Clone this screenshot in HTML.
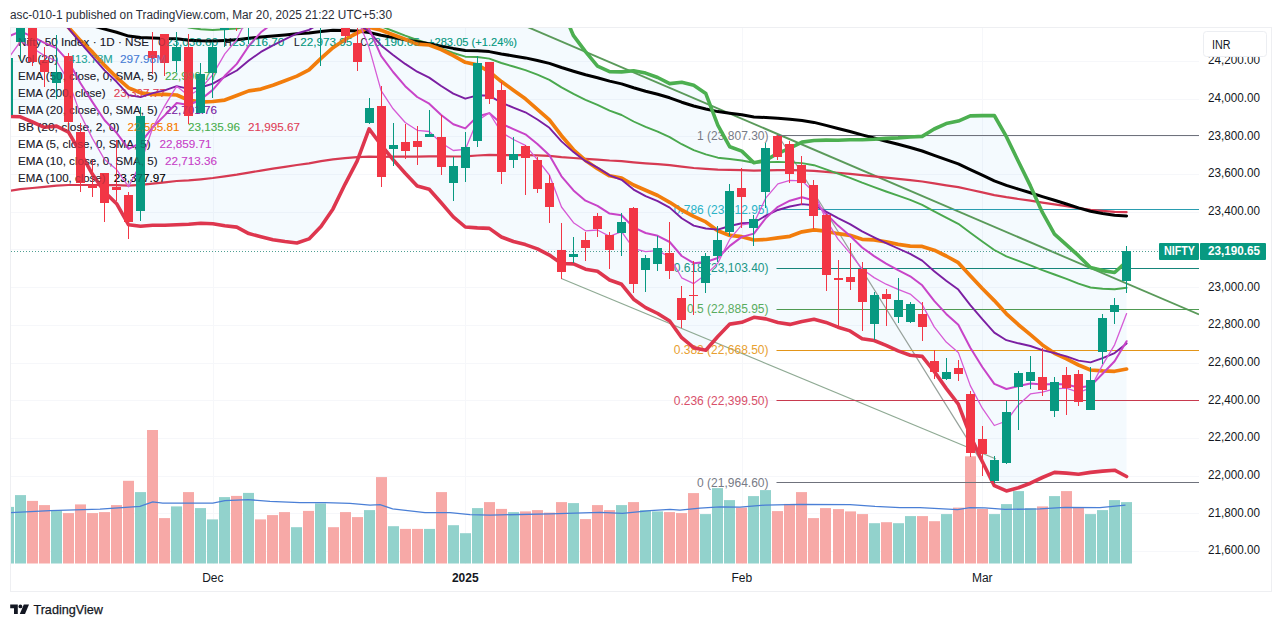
<!DOCTYPE html>
<html><head><meta charset="utf-8"><title>Nifty 50 Index chart</title>
<style>html,body{margin:0;padding:0;background:#fff;width:1281px;height:627px;overflow:hidden;font-family:"Liberation Sans",sans-serif}</style>
</head><body>
<svg width="1281" height="627" viewBox="0 0 1281 627" style="position:absolute;left:0;top:0;font-family:'Liberation Sans',sans-serif">
<defs><clipPath id="pane"><rect x="11" y="28" width="1188" height="536.5"/></clipPath></defs>
<rect x="0" y="0" width="1281" height="627" fill="#fff"/>
<rect x="10.5" y="27.5" width="1261" height="564" fill="none" stroke="#eeeff2" stroke-width="1"/>
<line x1="11" x2="1199" y1="551.5" y2="551.5" stroke="#f6f7fa" stroke-width="1"/>
<line x1="11" x2="1199" y1="513.5" y2="513.5" stroke="#f6f7fa" stroke-width="1"/>
<line x1="11" x2="1199" y1="476.5" y2="476.5" stroke="#f6f7fa" stroke-width="1"/>
<line x1="11" x2="1199" y1="438.5" y2="438.5" stroke="#f6f7fa" stroke-width="1"/>
<line x1="11" x2="1199" y1="400.5" y2="400.5" stroke="#f6f7fa" stroke-width="1"/>
<line x1="11" x2="1199" y1="363.5" y2="363.5" stroke="#f6f7fa" stroke-width="1"/>
<line x1="11" x2="1199" y1="325.5" y2="325.5" stroke="#f6f7fa" stroke-width="1"/>
<line x1="11" x2="1199" y1="287.5" y2="287.5" stroke="#f6f7fa" stroke-width="1"/>
<line x1="11" x2="1199" y1="249.5" y2="249.5" stroke="#f6f7fa" stroke-width="1"/>
<line x1="11" x2="1199" y1="212.5" y2="212.5" stroke="#f6f7fa" stroke-width="1"/>
<line x1="11" x2="1199" y1="174.5" y2="174.5" stroke="#f6f7fa" stroke-width="1"/>
<line x1="11" x2="1199" y1="136.5" y2="136.5" stroke="#f6f7fa" stroke-width="1"/>
<line x1="11" x2="1199" y1="99.5" y2="99.5" stroke="#f6f7fa" stroke-width="1"/>
<line x1="11" x2="1199" y1="61.5" y2="61.5" stroke="#f6f7fa" stroke-width="1"/>
<line x1="213.5" x2="213.5" y1="28" y2="564" stroke="#f6f7fa" stroke-width="1"/>
<line x1="465.5" x2="465.5" y1="28" y2="564" stroke="#f6f7fa" stroke-width="1"/>
<line x1="742.5" x2="742.5" y1="28" y2="564" stroke="#f6f7fa" stroke-width="1"/>
<line x1="982.5" x2="982.5" y1="28" y2="564" stroke="#f6f7fa" stroke-width="1"/>
<g clip-path="url(#pane)">
<polygon points="8.4,-142.2 20.4,-133.2 32.4,-123.3 44.4,-113.2 56.5,-93.4 68.5,-77.4 80.5,-71.3 92.5,-69.9 104.6,-61.3 116.6,-49.1 128.6,-49.1 140.6,-40.6 152.7,-36.2 164.7,-36.5 176.7,-34.9 188.7,-24.0 200.8,-19.0 212.8,-20.7 224.8,-25.6 236.8,-35.9 248.8,-51.7 260.9,-58.6 272.9,-69.4 284.9,-79.9 296.9,-90.8 309.0,-99.3 321.0,-109.7 333.0,-113.5 345.0,-105.5 357.1,-95.1 369.1,-74.3 381.1,-84.4 393.1,-90.0 405.2,-95.0 417.2,-97.9 429.2,-99.1 441.2,-103.4 453.3,-105.6 465.3,-102.3 477.3,-98.0 489.3,-85.3 501.4,-73.8 513.4,-61.2 525.4,-46.9 537.4,-30.1 549.4,-15.3 561.5,8.0 573.5,35.7 585.5,51.6 597.5,66.2 609.6,71.6 621.6,71.9 633.6,70.7 645.6,73.1 657.7,77.5 669.7,83.6 681.7,82.2 693.7,85.2 705.8,93.6 717.8,125.1 729.8,146.8 741.8,151.1 753.9,162.7 765.9,160.1 777.9,153.3 789.9,148.1 802.0,142.1 814.0,140.5 826.0,140.1 838.0,140.3 850.0,139.8 862.1,139.8 874.1,139.3 886.1,138.4 898.1,137.9 910.2,137.0 922.2,136.4 934.2,129.0 946.2,123.6 958.3,121.1 970.3,115.9 982.3,115.6 994.3,115.5 1006.4,136.7 1018.4,161.5 1030.4,185.9 1042.4,212.4 1054.5,234.1 1066.5,244.8 1078.5,255.7 1090.5,267.5 1102.6,270.6 1114.6,272.5 1126.6,261.6 1126.6,476.5 1114.6,470.2 1102.6,471.1 1090.5,472.4 1078.5,474.3 1066.5,473.1 1054.5,472.4 1042.4,477.5 1030.4,483.2 1018.4,487.8 1006.4,490.9 994.3,485.7 982.3,461.5 970.3,435.5 958.3,404.2 946.2,388.4 934.2,371.4 922.2,356.4 910.2,355.2 898.1,350.9 886.1,345.3 874.1,340.5 862.1,338.7 850.0,330.9 838.0,327.2 826.0,322.4 814.0,319.3 802.0,321.5 789.9,324.4 777.9,322.5 765.9,318.9 753.9,317.3 741.8,322.3 729.8,324.1 717.8,336.5 705.8,350.2 693.7,347.7 681.7,337.7 669.7,321.0 657.7,313.5 645.6,307.6 633.6,299.2 621.6,284.3 609.6,280.0 597.5,271.3 585.5,269.2 573.5,263.9 561.5,263.5 549.4,255.1 537.4,248.9 525.4,244.6 513.4,241.5 501.4,237.0 489.3,228.4 477.3,227.9 465.3,227.0 453.3,216.8 441.2,202.7 429.2,189.2 417.2,186.1 405.2,173.3 393.1,159.6 381.1,145.0 369.1,128.9 357.1,161.1 345.0,184.3 333.0,208.9 321.0,226.5 309.0,238.9 296.9,243.0 284.9,241.5 272.9,239.7 260.9,236.8 248.8,233.6 236.8,227.1 224.8,225.7 212.8,223.7 200.8,223.3 188.7,224.3 176.7,224.8 164.7,225.2 152.7,225.2 140.6,226.3 128.6,224.8 116.6,203.7 104.6,192.1 92.5,174.3 80.5,152.8 68.5,132.2 56.5,126.1 44.4,127.3 32.4,122.0 20.4,116.8 8.4,116.4" fill="#2196f3" fill-opacity="0.05"/>
</g>
<text x="18.1" y="45.9" font-size="11.5" fill="#1e222d" textLength="131" lengthAdjust="spacingAndGlyphs" >Nifty 50 Index · 1D · NSE</text>
<text x="158.2" y="45.9" font-size="11.5" fill="#1e222d" textLength="7.100000000000011" lengthAdjust="spacingAndGlyphs" >O</text>
<text x="166" y="45.9" font-size="11.5" fill="#089981" textLength="52" lengthAdjust="spacingAndGlyphs">23,036.60</text>
<text x="224.5" y="45.9" font-size="11.5" fill="#1e222d" textLength="7.100000000000011" lengthAdjust="spacingAndGlyphs" >H</text>
<text x="232.3" y="45.9" font-size="11.5" fill="#089981" textLength="52" lengthAdjust="spacingAndGlyphs">23,216.70</text>
<text x="293.9" y="45.9" font-size="11.5" fill="#1e222d" textLength="5.700000000000034" lengthAdjust="spacingAndGlyphs" >L</text>
<text x="300.3" y="45.9" font-size="11.5" fill="#089981" textLength="52" lengthAdjust="spacingAndGlyphs">22,973.95</text>
<text x="360.6" y="45.9" font-size="11.5" fill="#1e222d" textLength="6.4999999999999885" lengthAdjust="spacingAndGlyphs" >C</text>
<text x="367.8" y="45.9" font-size="11.5" fill="#089981" textLength="52" lengthAdjust="spacingAndGlyphs">23,190.65</text>
<text x="428" y="45.9" font-size="11.5" fill="#089981" textLength="89" lengthAdjust="spacingAndGlyphs" >+283.05 (+1.24%)</text>
<text x="18.1" y="62.9" font-size="11.5" fill="#1e222d" textLength="40" lengthAdjust="spacingAndGlyphs" >Vol (20)</text>
<text x="68.75" y="62.9" font-size="11.5" fill="#26a69a" textLength="44" lengthAdjust="spacingAndGlyphs" >413.73M</text>
<text x="120" y="62.9" font-size="11.5" fill="#4a7fd6" textLength="46" lengthAdjust="spacingAndGlyphs" >297.98M</text>
<text x="18.1" y="79.8" font-size="11.5" fill="#1e222d" textLength="139.5" lengthAdjust="spacingAndGlyphs" >EMA (50, close, 0, SMA, 5)</text>
<text x="165" y="79.8" font-size="11.5" fill="#4caf50" textLength="52" lengthAdjust="spacingAndGlyphs" >22,996.77</text>
<text x="18.1" y="96.8" font-size="11.5" fill="#1e222d" textLength="87.5" lengthAdjust="spacingAndGlyphs" >EMA (200, close)</text>
<text x="113.75" y="96.8" font-size="11.5" fill="#e0435a" textLength="52" lengthAdjust="spacingAndGlyphs" >23,397.77</text>
<text x="18.1" y="113.8" font-size="11.5" fill="#1e222d" textLength="139.5" lengthAdjust="spacingAndGlyphs" >EMA (20, close, 0, SMA, 5)</text>
<text x="165" y="113.8" font-size="11.5" fill="#7b1fa2" textLength="52" lengthAdjust="spacingAndGlyphs" >22,701.76</text>
<text x="18.1" y="130.8" font-size="11.5" fill="#1e222d" textLength="101.5" lengthAdjust="spacingAndGlyphs" >BB (20, close, 2, 0)</text>
<text x="127.5" y="130.8" font-size="11.5" fill="#f57c00" textLength="52" lengthAdjust="spacingAndGlyphs" >22,565.81</text>
<text x="188" y="130.8" font-size="11.5" fill="#4caf50" textLength="52" lengthAdjust="spacingAndGlyphs" >23,135.96</text>
<text x="248" y="130.8" font-size="11.5" fill="#e0435a" textLength="52" lengthAdjust="spacingAndGlyphs" >21,995.67</text>
<text x="18.1" y="147.8" font-size="11.5" fill="#1e222d" textLength="132.5" lengthAdjust="spacingAndGlyphs" >EMA (5, close, 0, SMA, 5)</text>
<text x="159.5" y="147.8" font-size="11.5" fill="#c844c8" textLength="52" lengthAdjust="spacingAndGlyphs" >22,859.71</text>
<text x="18.1" y="164.8" font-size="11.5" fill="#1e222d" textLength="139.5" lengthAdjust="spacingAndGlyphs" >EMA (10, close, 0, SMA, 5)</text>
<text x="165" y="164.8" font-size="11.5" fill="#c844c8" textLength="52" lengthAdjust="spacingAndGlyphs" >22,713.36</text>
<text x="18.1" y="181.8" font-size="11.5" fill="#1e222d" textLength="87.5" lengthAdjust="spacingAndGlyphs" >EMA (100, close)</text>
<text x="113.75" y="181.8" font-size="11.5" fill="#000" textLength="52" lengthAdjust="spacingAndGlyphs" >23,377.97</text>
<g clip-path="url(#pane)">
<rect x="3" y="506.9" width="11" height="56.6" fill="#92d2cc"/>
<rect x="15" y="495.1" width="11" height="68.4" fill="#92d2cc"/>
<rect x="27" y="500.9" width="11" height="62.6" fill="#f7a9a7"/>
<rect x="39" y="505.1" width="11" height="58.4" fill="#f7a9a7"/>
<rect x="51" y="510.1" width="11" height="53.4" fill="#92d2cc"/>
<rect x="63" y="513.1" width="11" height="50.4" fill="#f7a9a7"/>
<rect x="75" y="504.4" width="11" height="59.1" fill="#f7a9a7"/>
<rect x="87" y="513.1" width="11" height="50.4" fill="#f7a9a7"/>
<rect x="99" y="512.1" width="11" height="51.4" fill="#f7a9a7"/>
<rect x="111" y="505.1" width="11" height="58.4" fill="#f7a9a7"/>
<rect x="123" y="480.8" width="11" height="82.7" fill="#f7a9a7"/>
<rect x="135" y="492.1" width="11" height="71.4" fill="#92d2cc"/>
<rect x="147" y="430.0" width="11" height="133.5" fill="#f7a9a7"/>
<rect x="159" y="518.1" width="11" height="45.4" fill="#f7a9a7"/>
<rect x="171" y="506.4" width="11" height="57.1" fill="#92d2cc"/>
<rect x="183" y="492.1" width="11" height="71.4" fill="#f7a9a7"/>
<rect x="195" y="508.1" width="11" height="55.4" fill="#92d2cc"/>
<rect x="207" y="519.4" width="11" height="44.1" fill="#92d2cc"/>
<rect x="219" y="497.1" width="11" height="66.4" fill="#92d2cc"/>
<rect x="231" y="495.9" width="11" height="67.6" fill="#f7a9a7"/>
<rect x="243" y="492.9" width="11" height="70.6" fill="#92d2cc"/>
<rect x="255" y="519.4" width="11" height="44.1" fill="#f7a9a7"/>
<rect x="267" y="515.1" width="11" height="48.4" fill="#f7a9a7"/>
<rect x="279" y="512.1" width="11" height="51.4" fill="#f7a9a7"/>
<rect x="291" y="527.2" width="11" height="36.3" fill="#92d2cc"/>
<rect x="303" y="510.9" width="11" height="52.6" fill="#f7a9a7"/>
<rect x="315" y="503.4" width="11" height="60.1" fill="#92d2cc"/>
<rect x="328" y="527.2" width="11" height="36.3" fill="#f7a9a7"/>
<rect x="340" y="512.1" width="11" height="51.4" fill="#f7a9a7"/>
<rect x="352" y="517.1" width="11" height="46.4" fill="#f7a9a7"/>
<rect x="364" y="510.1" width="11" height="53.4" fill="#92d2cc"/>
<rect x="376" y="477.1" width="11" height="86.4" fill="#f7a9a7"/>
<rect x="388" y="526.2" width="11" height="37.3" fill="#92d2cc"/>
<rect x="400" y="528.9" width="11" height="34.6" fill="#f7a9a7"/>
<rect x="412" y="528.9" width="11" height="34.6" fill="#f7a9a7"/>
<rect x="424" y="528.9" width="11" height="34.6" fill="#92d2cc"/>
<rect x="436" y="492.1" width="11" height="71.4" fill="#f7a9a7"/>
<rect x="448" y="525.2" width="11" height="38.3" fill="#92d2cc"/>
<rect x="460" y="533.2" width="11" height="30.3" fill="#92d2cc"/>
<rect x="472" y="508.1" width="11" height="55.4" fill="#92d2cc"/>
<rect x="484" y="502.1" width="11" height="61.4" fill="#f7a9a7"/>
<rect x="496" y="508.9" width="11" height="54.6" fill="#f7a9a7"/>
<rect x="508" y="512.1" width="11" height="51.4" fill="#92d2cc"/>
<rect x="520" y="511.4" width="11" height="52.1" fill="#f7a9a7"/>
<rect x="532" y="510.1" width="11" height="53.4" fill="#f7a9a7"/>
<rect x="544" y="512.6" width="11" height="50.9" fill="#f7a9a7"/>
<rect x="556" y="502.1" width="11" height="61.4" fill="#f7a9a7"/>
<rect x="568" y="503.1" width="11" height="60.4" fill="#92d2cc"/>
<rect x="580" y="519.1" width="11" height="44.4" fill="#f7a9a7"/>
<rect x="592" y="505.1" width="11" height="58.4" fill="#f7a9a7"/>
<rect x="604" y="510.1" width="11" height="53.4" fill="#f7a9a7"/>
<rect x="616" y="505.1" width="11" height="58.4" fill="#92d2cc"/>
<rect x="628" y="502.1" width="11" height="61.4" fill="#f7a9a7"/>
<rect x="640" y="510.1" width="11" height="53.4" fill="#92d2cc"/>
<rect x="652" y="511.4" width="11" height="52.1" fill="#92d2cc"/>
<rect x="664" y="512.1" width="11" height="51.4" fill="#f7a9a7"/>
<rect x="676" y="513.1" width="11" height="50.4" fill="#f7a9a7"/>
<rect x="688" y="493.1" width="11" height="70.4" fill="#f7a9a7"/>
<rect x="700" y="514.1" width="11" height="49.4" fill="#92d2cc"/>
<rect x="712" y="488.1" width="11" height="75.4" fill="#92d2cc"/>
<rect x="724" y="500.1" width="11" height="63.4" fill="#92d2cc"/>
<rect x="736" y="507.6" width="11" height="55.9" fill="#f7a9a7"/>
<rect x="748" y="496.1" width="11" height="67.4" fill="#92d2cc"/>
<rect x="760" y="490.1" width="11" height="73.4" fill="#92d2cc"/>
<rect x="772" y="511.1" width="11" height="52.4" fill="#f7a9a7"/>
<rect x="784" y="503.9" width="11" height="59.6" fill="#f7a9a7"/>
<rect x="796" y="492.1" width="11" height="71.4" fill="#f7a9a7"/>
<rect x="808" y="518.1" width="11" height="45.4" fill="#f7a9a7"/>
<rect x="820" y="508.1" width="11" height="55.4" fill="#f7a9a7"/>
<rect x="833" y="509.1" width="11" height="54.4" fill="#f7a9a7"/>
<rect x="845" y="511.4" width="11" height="52.1" fill="#f7a9a7"/>
<rect x="857" y="514.1" width="11" height="49.4" fill="#f7a9a7"/>
<rect x="869" y="523.2" width="11" height="40.3" fill="#92d2cc"/>
<rect x="881" y="522.2" width="11" height="41.3" fill="#f7a9a7"/>
<rect x="893" y="523.2" width="11" height="40.3" fill="#92d2cc"/>
<rect x="905" y="516.1" width="11" height="47.4" fill="#92d2cc"/>
<rect x="917" y="516.1" width="11" height="47.4" fill="#f7a9a7"/>
<rect x="929" y="521.2" width="11" height="42.3" fill="#f7a9a7"/>
<rect x="941" y="514.1" width="11" height="49.4" fill="#92d2cc"/>
<rect x="953" y="507.6" width="11" height="55.9" fill="#f7a9a7"/>
<rect x="965" y="456.3" width="11" height="107.2" fill="#f7a9a7"/>
<rect x="977" y="508.9" width="11" height="54.6" fill="#f7a9a7"/>
<rect x="989" y="514.1" width="11" height="49.4" fill="#92d2cc"/>
<rect x="1001" y="504.1" width="11" height="59.4" fill="#92d2cc"/>
<rect x="1013" y="491.1" width="11" height="72.4" fill="#92d2cc"/>
<rect x="1025" y="508.1" width="11" height="55.4" fill="#92d2cc"/>
<rect x="1037" y="506.4" width="11" height="57.1" fill="#f7a9a7"/>
<rect x="1049" y="496.1" width="11" height="67.4" fill="#92d2cc"/>
<rect x="1061" y="491.1" width="11" height="72.4" fill="#f7a9a7"/>
<rect x="1073" y="507.6" width="11" height="55.9" fill="#f7a9a7"/>
<rect x="1085" y="514.1" width="11" height="49.4" fill="#92d2cc"/>
<rect x="1097" y="510.1" width="11" height="53.4" fill="#92d2cc"/>
<rect x="1109" y="500.1" width="11" height="63.4" fill="#92d2cc"/>
<rect x="1121" y="502.1" width="11" height="61.4" fill="#92d2cc"/>
<polyline points="10,512.6 50,510.6 100,509.1 140,506.4 152.7,501.9 162.7,503.1 212.8,503.1 225,500.6 248,499.6 270,501.4 300,502.6 325,502.6 350,503.4 370,505.1 380,504.6 392.6,508.9 425,512.6 450,512.6 470,514.6 490,515.1 550,513.9 575,513.1 600,512.4 622.5,513.4 650,510.6 670,509.4 680,510.1 700,508.1 720,506.9 740,507.1 765,505.1 800,504.4 850,504.6 875,506.4 900,507.6 920,507.6 957.6,509.6 970,507.6 985,507.9 1005,509.4 1040,508.9 1065,507.4 1100,507.6 1125.5,505.1" fill="none" stroke="#4a7fd6" stroke-width="1.3"/>
<line x1="561.3" y1="278.5" x2="996" y2="459" stroke="#8faa94" stroke-width="1.2"/>
<line x1="527.5" y1="27" x2="1199" y2="314.5" stroke="#5a9a5a" stroke-width="1.9"/>
<line x1="777.9" y1="135.0" x2="994.3" y2="482.4" stroke="#97a19b" stroke-width="1.2"/>
<line x1="776.5" x2="1199" y1="135.5" y2="135.5" stroke="#6f727c" stroke-width="1"/>
<text x="768.5" y="139.6" font-size="12" fill="#787b86" text-anchor="end">1 (23,807.30)</text>
<line x1="776.5" x2="1199" y1="209.5" y2="209.5" stroke="#2a9db0" stroke-width="1"/>
<text x="768.5" y="214.0" font-size="12" fill="#2bb3c7" text-anchor="end">0.786 (23,412.95)</text>
<line x1="776.5" x2="1199" y1="268.5" y2="268.5" stroke="#16857a" stroke-width="1"/>
<text x="768.5" y="272.3" font-size="12" fill="#1a9686" text-anchor="end">0.618 (23,103.40)</text>
<line x1="776.5" x2="1199" y1="309.5" y2="309.5" stroke="#4f9a52" stroke-width="1"/>
<text x="768.5" y="313.3" font-size="12" fill="#5aac5e" text-anchor="end">0.5 (22,885.95)</text>
<line x1="776.5" x2="1199" y1="350.5" y2="350.5" stroke="#e39518" stroke-width="1"/>
<text x="768.5" y="354.3" font-size="12" fill="#e8a030" text-anchor="end">0.382 (22,668.50)</text>
<line x1="776.5" x2="1199" y1="400.5" y2="400.5" stroke="#c83a4e" stroke-width="1"/>
<text x="768.5" y="405.0" font-size="12" fill="#d8506a" text-anchor="end">0.236 (22,399.50)</text>
<line x1="776.5" x2="1199" y1="482.5" y2="482.5" stroke="#6f727c" stroke-width="1"/>
<text x="768.5" y="487.0" font-size="12" fill="#787b86" text-anchor="end">0 (21,964.60)</text>
<line x1="11" x2="1199" y1="251.5" y2="251.5" stroke="#4f9f93" stroke-width="1" stroke-dasharray="1 2"/>
<polyline points="8.4,191.1 20.4,189.2 32.4,188.0 44.4,186.8 56.5,185.6 68.5,185.0 80.5,185.0 92.5,185.0 104.6,185.1 116.6,185.2 128.6,185.6 140.6,184.9 152.7,183.6 164.7,182.4 176.7,181.0 188.7,180.4 200.8,179.3 212.8,178.0 224.8,176.3 236.8,174.7 248.8,172.6 260.9,170.6 272.9,168.7 284.9,166.9 296.9,165.0 309.0,163.3 321.0,161.2 333.0,159.4 345.0,158.1 357.1,157.2 369.1,156.7 381.1,156.9 393.1,156.7 405.2,156.7 417.2,156.6 429.2,156.3 441.2,156.4 453.3,156.5 465.3,156.4 477.3,155.5 489.3,154.9 501.4,155.1 513.4,155.1 525.4,155.1 537.4,155.4 549.4,155.9 561.5,157.1 573.5,158.0 585.5,158.9 597.5,159.6 609.6,160.5 621.6,161.1 633.6,162.3 645.6,163.3 657.7,164.1 669.7,165.2 681.7,166.7 693.7,168.0 705.8,168.9 717.8,169.6 729.8,169.8 741.8,170.1 753.9,170.6 765.9,170.3 777.9,170.2 789.9,170.2 802.0,170.3 814.0,170.8 826.0,171.8 838.0,172.9 850.0,173.9 862.1,175.2 874.1,176.4 886.1,177.6 898.1,178.8 910.2,180.1 922.2,181.5 934.2,183.4 946.2,185.3 958.3,187.1 970.3,189.8 982.3,192.4 994.3,195.1 1006.4,197.2 1018.4,199.0 1030.4,200.7 1042.4,202.6 1054.5,204.3 1066.5,206.2 1078.5,208.1 1090.5,209.8 1102.6,210.9 1114.6,211.8 1126.6,212.2" fill="none" stroke="#d63a52" stroke-width="2.2" stroke-linejoin="round" stroke-linecap="round" />
<polyline points="8.4,-44.4 20.4,-42.4 32.4,-38.3 44.4,-34.1 56.5,-29.9 68.5,-24.0 80.5,-15.9 92.5,-8.0 104.6,0.2 116.6,7.7 128.6,16.0 140.6,20.0 152.7,21.4 164.7,23.0 176.7,23.9 188.7,27.5 200.8,29.3 212.8,30.0 224.8,29.3 236.8,28.6 248.8,26.1 260.9,23.9 272.9,22.3 284.9,20.8 296.9,19.1 309.0,18.2 321.0,15.6 333.0,14.0 345.0,14.8 357.1,16.6 369.1,20.2 381.1,26.3 393.1,31.0 405.2,35.7 417.2,40.0 429.2,43.7 441.2,48.4 453.3,53.0 465.3,56.7 477.3,57.0 489.3,58.6 501.4,63.0 513.4,66.5 525.4,70.1 537.4,74.7 549.4,79.9 561.5,87.4 573.5,93.9 585.5,99.9 597.5,104.9 609.6,110.6 621.6,115.0 633.6,121.5 645.6,126.9 657.7,131.7 669.7,137.1 681.7,144.2 693.7,150.1 705.8,154.3 717.8,157.7 729.8,159.0 741.8,160.5 753.9,162.8 765.9,162.2 777.9,161.9 789.9,162.4 802.0,163.1 814.0,165.2 826.0,169.4 838.0,173.7 850.0,177.9 862.1,182.7 874.1,187.1 886.1,191.5 898.1,195.7 910.2,199.9 922.2,204.9 934.2,211.4 946.2,217.7 958.3,223.8 970.3,232.8 982.3,241.4 994.3,250.0 1006.4,256.3 1018.4,260.9 1030.4,265.3 1042.4,270.1 1054.5,274.5 1066.5,278.9 1078.5,283.7 1090.5,287.5 1102.6,288.7 1114.6,289.3 1126.6,287.8" fill="none" stroke="#4aa84e" stroke-width="1.9" stroke-linejoin="round" stroke-linecap="round" />
<polyline points="8.4,14.1 20.4,14.0 32.4,14.9 44.4,16.0 56.5,17.1 68.5,19.2 80.5,22.4 92.5,25.7 104.6,29.1 116.6,32.3 128.6,36.1 140.6,37.6 152.7,38.0 164.7,38.5 176.7,38.7 188.7,40.2 200.8,40.8 212.8,41.0 224.8,40.4 236.8,39.8 248.8,38.3 260.9,37.0 272.9,35.9 284.9,34.9 296.9,33.7 309.0,33.0 321.0,31.4 333.0,30.2 345.0,30.4 357.1,31.0 369.1,32.5 381.1,35.3 393.1,37.5 405.2,39.7 417.2,41.8 429.2,43.7 441.2,46.1 453.3,48.4 465.3,50.4 477.3,50.7 489.3,51.6 501.4,54.0 513.4,55.9 525.4,57.9 537.4,60.5 549.4,63.4 561.5,67.5 573.5,71.2 585.5,74.7 597.5,77.7 609.6,81.1 621.6,83.9 633.6,87.8 645.6,91.2 657.7,94.3 669.7,97.8 681.7,102.2 693.7,106.0 705.8,109.0 717.8,111.6 729.8,113.2 741.8,114.8 753.9,116.9 765.9,117.5 777.9,118.2 789.9,119.3 802.0,120.6 814.0,122.4 826.0,125.4 838.0,128.5 850.0,131.5 862.1,134.9 874.1,138.0 886.1,141.2 898.1,144.3 910.2,147.5 922.2,151.0 934.2,155.4 946.2,159.7 958.3,163.9 970.3,169.6 982.3,175.2 994.3,180.9 1006.4,185.4 1018.4,189.1 1030.4,192.8 1042.4,196.6 1054.5,200.3 1066.5,204.0 1078.5,207.9 1090.5,211.3 1102.6,213.4 1114.6,215.2 1126.6,215.9" fill="none" stroke="#000000" stroke-width="3" stroke-linejoin="round" stroke-linecap="round" />
<polyline points="8.4,-142.2 20.4,-133.2 32.4,-123.3 44.4,-113.2 56.5,-93.4 68.5,-77.4 80.5,-71.3 92.5,-69.9 104.6,-61.3 116.6,-49.1 128.6,-49.1 140.6,-40.6 152.7,-36.2 164.7,-36.5 176.7,-34.9 188.7,-24.0 200.8,-19.0 212.8,-20.7 224.8,-25.6 236.8,-35.9 248.8,-51.7 260.9,-58.6 272.9,-69.4 284.9,-79.9 296.9,-90.8 309.0,-99.3 321.0,-109.7 333.0,-113.5 345.0,-105.5 357.1,-95.1 369.1,-74.3 381.1,-84.4 393.1,-90.0 405.2,-95.0 417.2,-97.9 429.2,-99.1 441.2,-103.4 453.3,-105.6 465.3,-102.3 477.3,-98.0 489.3,-85.3 501.4,-73.8 513.4,-61.2 525.4,-46.9 537.4,-30.1 549.4,-15.3 561.5,8.0 573.5,35.7 585.5,51.6 597.5,66.2 609.6,71.6 621.6,71.9 633.6,70.7 645.6,73.1 657.7,77.5 669.7,83.6 681.7,82.2 693.7,85.2 705.8,93.6 717.8,125.1 729.8,146.8 741.8,151.1 753.9,162.7 765.9,160.1 777.9,153.3 789.9,148.1 802.0,142.1 814.0,140.5 826.0,140.1 838.0,140.3 850.0,139.8 862.1,139.8 874.1,139.3 886.1,138.4 898.1,137.9 910.2,137.0 922.2,136.4 934.2,129.0 946.2,123.6 958.3,121.1 970.3,115.9 982.3,115.6 994.3,115.5 1006.4,136.7 1018.4,161.5 1030.4,185.9 1042.4,212.4 1054.5,234.1 1066.5,244.8 1078.5,255.7 1090.5,267.5 1102.6,270.6 1114.6,272.5 1126.6,261.6" fill="none" stroke="#4caf50" stroke-width="3.6" stroke-linejoin="round" stroke-linecap="round" />
<polyline points="8.4,116.4 20.4,116.8 32.4,122.0 44.4,127.3 56.5,126.1 68.5,132.2 80.5,152.8 92.5,174.3 104.6,192.1 116.6,203.7 128.6,224.8 140.6,226.3 152.7,225.2 164.7,225.2 176.7,224.8 188.7,224.3 200.8,223.3 212.8,223.7 224.8,225.7 236.8,227.1 248.8,233.6 260.9,236.8 272.9,239.7 284.9,241.5 296.9,243.0 309.0,238.9 321.0,226.5 333.0,208.9 345.0,184.3 357.1,161.1 369.1,128.9 381.1,145.0 393.1,159.6 405.2,173.3 417.2,186.1 429.2,189.2 441.2,202.7 453.3,216.8 465.3,227.0 477.3,227.9 489.3,228.4 501.4,237.0 513.4,241.5 525.4,244.6 537.4,248.9 549.4,255.1 561.5,263.5 573.5,263.9 585.5,269.2 597.5,271.3 609.6,280.0 621.6,284.3 633.6,299.2 645.6,307.6 657.7,313.5 669.7,321.0 681.7,337.7 693.7,347.7 705.8,350.2 717.8,336.5 729.8,324.1 741.8,322.3 753.9,317.3 765.9,318.9 777.9,322.5 789.9,324.4 802.0,321.5 814.0,319.3 826.0,322.4 838.0,327.2 850.0,330.9 862.1,338.7 874.1,340.5 886.1,345.3 898.1,350.9 910.2,355.2 922.2,356.4 934.2,371.4 946.2,388.4 958.3,404.2 970.3,435.5 982.3,461.5 994.3,485.7 1006.4,490.9 1018.4,487.8 1030.4,483.2 1042.4,477.5 1054.5,472.4 1066.5,473.1 1078.5,474.3 1090.5,472.4 1102.6,471.1 1114.6,470.2 1126.6,476.5" fill="none" stroke="#de364e" stroke-width="3.6" stroke-linejoin="round" stroke-linecap="round" />
<polyline points="8.4,-12.9 20.4,-8.2 32.4,-0.7 44.4,7.0 56.5,16.3 68.5,27.4 80.5,40.7 92.5,52.2 104.6,65.4 116.6,77.3 128.6,87.9 140.6,92.8 152.7,94.5 164.7,94.4 176.7,95.0 188.7,100.2 200.8,102.2 212.8,101.5 224.8,100.1 236.8,95.6 248.8,90.9 260.9,89.1 272.9,85.2 284.9,80.8 296.9,76.1 309.0,69.8 321.0,58.4 333.0,47.7 345.0,39.4 357.1,33.0 369.1,27.3 381.1,30.3 393.1,34.8 405.2,39.2 417.2,44.1 429.2,45.0 441.2,49.6 453.3,55.6 465.3,62.3 477.3,64.9 489.3,71.6 501.4,81.6 513.4,90.2 525.4,98.8 537.4,109.4 549.4,119.9 561.5,135.7 573.5,149.8 585.5,160.4 597.5,168.7 609.6,175.8 621.6,178.1 633.6,185.0 645.6,190.3 657.7,195.5 669.7,202.3 681.7,210.0 693.7,216.4 705.8,221.9 717.8,230.8 729.8,235.4 741.8,236.7 753.9,240.0 765.9,239.5 777.9,237.9 789.9,236.3 802.0,231.8 814.0,229.9 826.0,231.2 838.0,233.7 850.0,235.3 862.1,239.3 874.1,239.9 886.1,241.8 898.1,244.4 910.2,246.1 922.2,246.4 934.2,250.2 946.2,256.0 958.3,262.7 970.3,275.7 982.3,288.5 994.3,300.6 1006.4,313.8 1018.4,324.7 1030.4,334.6 1042.4,344.9 1054.5,353.3 1066.5,358.9 1078.5,365.0 1090.5,370.0 1102.6,370.9 1114.6,371.3 1126.6,369.0" fill="none" stroke="#f27d0c" stroke-width="3.7" stroke-linejoin="round" stroke-linecap="round" />
<polyline points="8.4,0.5 20.4,1.1 32.4,6.9 44.4,12.9 56.5,18.6 68.5,28.3 80.5,42.9 92.5,56.6 104.6,70.4 116.6,81.8 128.6,95.1 140.6,97.1 152.7,93.2 164.7,90.3 176.7,86.1 188.7,88.9 200.8,87.5 212.8,83.6 224.8,76.8 236.8,70.5 248.8,60.5 260.9,51.9 272.9,45.3 284.9,39.4 296.9,33.5 309.0,29.9 321.0,22.7 333.0,17.9 345.0,19.6 357.1,23.5 369.1,31.6 381.1,45.4 393.1,54.9 405.2,63.9 417.2,71.7 429.2,77.6 441.2,86.0 453.3,93.6 465.3,98.7 477.3,95.3 489.3,95.6 501.4,102.7 513.4,107.6 525.4,112.3 537.4,119.5 549.4,127.8 561.5,141.4 573.5,152.1 585.5,161.2 597.5,167.6 609.6,175.3 621.6,179.8 633.6,189.6 645.6,196.1 657.7,201.1 669.7,207.6 681.7,218.3 693.7,225.6 705.8,228.5 717.8,229.6 729.8,226.0 741.8,223.2 753.9,222.8 765.9,215.6 777.9,210.0 789.9,206.5 802.0,204.1 814.0,205.2 826.0,211.7 838.0,218.1 850.0,224.1 862.1,231.4 874.1,237.4 886.1,243.1 898.1,248.5 910.2,253.8 922.2,260.6 934.2,271.2 946.2,280.8 958.3,289.6 970.3,305.1 982.3,319.2 994.3,332.6 1006.4,340.2 1018.4,343.3 1030.4,346.0 1042.4,350.1 1054.5,353.1 1066.5,356.3 1078.5,360.6 1090.5,362.4 1102.6,358.2 1114.6,353.1 1126.6,343.4" fill="none" stroke="#7b1fa2" stroke-width="1.9" stroke-linejoin="round" stroke-linecap="round" />
<polyline points="8.4,36.6 20.4,31.3 32.4,36.7 44.4,42.9 56.5,48.2 68.5,61.4 80.5,83.3 92.5,102.1 104.6,120.2 116.6,132.8 128.6,148.9 140.6,142.9 152.7,127.3 164.7,115.4 176.7,103.0 188.7,105.1 200.8,99.5 212.8,89.9 224.8,75.8 236.8,63.9 248.8,46.0 260.9,32.3 272.9,23.2 284.9,16.0 296.9,9.1 309.0,6.5 321.0,-3.0 333.0,-7.4 345.0,0.3 357.1,11.4 369.1,28.9 381.1,55.8 393.1,72.0 405.2,86.2 417.2,97.0 429.2,103.7 441.2,115.0 453.3,124.2 465.3,128.4 477.3,116.5 489.3,113.1 501.4,123.7 513.4,129.1 525.4,134.3 537.4,144.0 549.4,155.3 561.5,176.3 573.5,190.4 585.5,200.7 597.5,205.8 609.6,213.6 621.6,215.2 633.6,227.4 645.6,233.0 657.7,235.8 669.7,242.0 681.7,256.0 693.7,263.2 705.8,262.0 717.8,258.0 729.8,245.9 741.8,236.9 753.9,233.6 765.9,218.0 777.9,206.8 789.9,200.7 802.0,197.2 814.0,200.5 826.0,213.8 838.0,225.6 850.0,235.7 862.1,247.5 874.1,256.1 886.1,263.6 898.1,270.2 910.2,276.3 922.2,285.3 934.2,300.9 946.2,313.9 958.3,324.7 970.3,347.8 982.3,367.0 994.3,383.9 1006.4,389.0 1018.4,386.1 1030.4,383.5 1042.4,384.5 1054.5,384.0 1066.5,384.5 1078.5,387.5 1090.5,386.1 1102.6,373.8 1114.6,361.2 1126.6,341.2" fill="none" stroke="#c844c8" stroke-width="2" stroke-linejoin="round" stroke-linecap="round" />
<polyline points="8.4,58.4 20.4,41.5 32.4,48.0 44.4,55.6 56.5,61.1 68.5,80.9 80.5,114.6 92.5,138.6 104.6,159.6 116.6,169.6 128.6,186.8 140.6,163.3 152.7,127.8 164.7,105.9 176.7,86.2 188.7,95.8 200.8,88.5 212.8,74.6 224.8,53.9 236.8,39.5 248.8,14.7 260.9,0.1 272.9,-5.9 284.9,-9.4 296.9,-13.7 309.0,-10.7 321.0,-22.5 333.0,-24.1 345.0,-4.3 357.1,17.6 369.1,47.6 381.1,90.6 393.1,108.8 405.2,122.5 417.2,130.3 429.2,131.5 441.2,142.9 453.3,150.5 465.3,149.4 477.3,120.6 489.3,113.0 501.4,132.4 513.4,139.5 525.4,145.4 537.4,159.6 549.4,175.0 561.5,207.0 573.5,222.7 585.5,230.8 597.5,230.0 609.6,236.3 621.6,231.6 633.6,248.6 645.6,251.7 657.7,250.6 669.7,257.0 681.7,277.8 693.7,283.6 705.8,274.6 717.8,263.1 729.8,239.2 741.8,224.9 753.9,223.0 765.9,197.9 777.9,183.9 789.9,180.4 802.0,180.8 814.0,192.3 826.0,219.4 838.0,239.2 850.0,253.2 862.1,269.0 874.1,277.6 886.1,284.2 898.1,289.4 910.2,294.1 922.2,304.6 934.2,326.9 946.2,342.1 958.3,352.4 970.3,385.6 982.3,408.2 994.3,425.5 1006.4,421.0 1018.4,405.0 1030.4,393.9 1042.4,392.2 1054.5,388.8 1066.5,388.2 1078.5,392.4 1090.5,388.2 1102.6,364.9 1114.6,344.8 1126.6,313.6" fill="none" stroke="#d65bd6" stroke-width="1.3" stroke-linejoin="round" stroke-linecap="round" />
<rect x="8" y="56" width="1" height="73" fill="#089981"/>
<rect x="4" y="58" width="9" height="57" fill="#089981"/>
<rect x="20" y="-3" width="1" height="64" fill="#089981"/>
<rect x="16" y="7" width="9" height="35" fill="#089981"/>
<rect x="32" y="4" width="1" height="62" fill="#f23645"/>
<rect x="28" y="6" width="9" height="56" fill="#f23645"/>
<rect x="44" y="47" width="1" height="40" fill="#f23645"/>
<rect x="40" y="60" width="9" height="12" fill="#f23645"/>
<rect x="56" y="35" width="1" height="64" fill="#089981"/>
<rect x="52" y="72" width="9" height="11" fill="#089981"/>
<rect x="68" y="53" width="1" height="77" fill="#f23645"/>
<rect x="64" y="56" width="9" height="66" fill="#f23645"/>
<rect x="80" y="123" width="1" height="69" fill="#f23645"/>
<rect x="76" y="132" width="9" height="51" fill="#f23645"/>
<rect x="92" y="160" width="1" height="37" fill="#f23645"/>
<rect x="88" y="185" width="9" height="3" fill="#f23645"/>
<rect x="104" y="173" width="1" height="49" fill="#f23645"/>
<rect x="100" y="173" width="9" height="30" fill="#f23645"/>
<rect x="116" y="140" width="1" height="61" fill="#f23645"/>
<rect x="112" y="187" width="9" height="3" fill="#f23645"/>
<rect x="128" y="192" width="1" height="47" fill="#f23645"/>
<rect x="124" y="195" width="9" height="27" fill="#f23645"/>
<rect x="140" y="107" width="1" height="114" fill="#089981"/>
<rect x="136" y="116" width="9" height="95" fill="#089981"/>
<rect x="152" y="32" width="1" height="42" fill="#f23645"/>
<rect x="148" y="51" width="9" height="7" fill="#f23645"/>
<rect x="164" y="34" width="1" height="42" fill="#f23645"/>
<rect x="160" y="34" width="9" height="29" fill="#f23645"/>
<rect x="176" y="32" width="1" height="40" fill="#089981"/>
<rect x="172" y="47" width="9" height="14" fill="#089981"/>
<rect x="188" y="34" width="1" height="90" fill="#f23645"/>
<rect x="184" y="47" width="9" height="69" fill="#f23645"/>
<rect x="200" y="63" width="1" height="50" fill="#089981"/>
<rect x="196" y="74" width="9" height="39" fill="#089981"/>
<rect x="212" y="42" width="1" height="56" fill="#089981"/>
<rect x="208" y="47" width="9" height="26" fill="#089981"/>
<rect x="224" y="8" width="1" height="39" fill="#089981"/>
<rect x="220" y="13" width="9" height="17" fill="#089981"/>
<rect x="236" y="-9" width="1" height="40" fill="#f23645"/>
<rect x="232" y="7" width="9" height="5" fill="#f23645"/>
<rect x="248" y="-63" width="1" height="107" fill="#089981"/>
<rect x="244" y="-35" width="9" height="33" fill="#089981"/>
<rect x="260" y="-43" width="1" height="26" fill="#f23645"/>
<rect x="256" y="-39" width="9" height="11" fill="#f23645"/>
<rect x="272" y="-34" width="1" height="24" fill="#f23645"/>
<rect x="268" y="-21" width="9" height="4" fill="#f23645"/>
<rect x="284" y="-29" width="1" height="32" fill="#f23645"/>
<rect x="280" y="-24" width="9" height="9" fill="#f23645"/>
<rect x="296" y="-32" width="1" height="22" fill="#089981"/>
<rect x="292" y="-22" width="9" height="5" fill="#089981"/>
<rect x="308" y="-29" width="1" height="29" fill="#f23645"/>
<rect x="304" y="-15" width="9" height="11" fill="#f23645"/>
<rect x="320" y="-51" width="1" height="117" fill="#089981"/>
<rect x="316" y="-46" width="9" height="52" fill="#089981"/>
<rect x="333" y="-49" width="1" height="35" fill="#f23645"/>
<rect x="329" y="-43" width="9" height="17" fill="#f23645"/>
<rect x="345" y="-19" width="1" height="62" fill="#f23645"/>
<rect x="341" y="-12" width="9" height="48" fill="#f23645"/>
<rect x="357" y="24" width="1" height="47" fill="#f23645"/>
<rect x="353" y="43" width="9" height="19" fill="#f23645"/>
<rect x="369" y="98" width="1" height="26" fill="#089981"/>
<rect x="365" y="108" width="9" height="15" fill="#089981"/>
<rect x="381" y="86" width="1" height="101" fill="#f23645"/>
<rect x="377" y="106" width="9" height="71" fill="#f23645"/>
<rect x="393" y="123" width="1" height="43" fill="#089981"/>
<rect x="389" y="145" width="9" height="4" fill="#089981"/>
<rect x="405" y="124" width="1" height="35" fill="#f23645"/>
<rect x="401" y="142" width="9" height="9" fill="#f23645"/>
<rect x="417" y="126" width="1" height="39" fill="#f23645"/>
<rect x="413" y="141" width="9" height="6" fill="#f23645"/>
<rect x="429" y="110" width="1" height="27" fill="#089981"/>
<rect x="425" y="134" width="9" height="3" fill="#089981"/>
<rect x="441" y="115" width="1" height="60" fill="#f23645"/>
<rect x="437" y="137" width="9" height="30" fill="#f23645"/>
<rect x="453" y="157" width="1" height="44" fill="#089981"/>
<rect x="449" y="166" width="9" height="17" fill="#089981"/>
<rect x="465" y="132" width="1" height="50" fill="#089981"/>
<rect x="461" y="147" width="9" height="21" fill="#089981"/>
<rect x="477" y="56" width="1" height="91" fill="#089981"/>
<rect x="473" y="63" width="9" height="78" fill="#089981"/>
<rect x="489" y="62" width="1" height="42" fill="#f23645"/>
<rect x="485" y="62" width="9" height="37" fill="#f23645"/>
<rect x="501" y="82" width="1" height="102" fill="#f23645"/>
<rect x="497" y="90" width="9" height="82" fill="#f23645"/>
<rect x="513" y="137" width="1" height="31" fill="#089981"/>
<rect x="509" y="154" width="9" height="6" fill="#089981"/>
<rect x="525" y="145" width="1" height="50" fill="#f23645"/>
<rect x="521" y="146" width="9" height="12" fill="#f23645"/>
<rect x="537" y="157" width="1" height="36" fill="#f23645"/>
<rect x="533" y="160" width="9" height="29" fill="#f23645"/>
<rect x="549" y="175" width="1" height="48" fill="#f23645"/>
<rect x="545" y="183" width="9" height="24" fill="#f23645"/>
<rect x="561" y="223" width="1" height="56" fill="#f23645"/>
<rect x="557" y="250" width="9" height="22" fill="#f23645"/>
<rect x="573" y="237" width="1" height="26" fill="#089981"/>
<rect x="569" y="254" width="9" height="3" fill="#089981"/>
<rect x="585" y="232" width="1" height="29" fill="#f23645"/>
<rect x="581" y="240" width="9" height="8" fill="#f23645"/>
<rect x="597" y="213" width="1" height="24" fill="#f23645"/>
<rect x="593" y="216" width="9" height="13" fill="#f23645"/>
<rect x="609" y="232" width="1" height="37" fill="#f23645"/>
<rect x="605" y="235" width="9" height="15" fill="#f23645"/>
<rect x="621" y="213" width="1" height="43" fill="#089981"/>
<rect x="617" y="222" width="9" height="11" fill="#089981"/>
<rect x="633" y="207" width="1" height="86" fill="#f23645"/>
<rect x="629" y="208" width="9" height="76" fill="#f23645"/>
<rect x="645" y="255" width="1" height="37" fill="#089981"/>
<rect x="641" y="258" width="9" height="12" fill="#089981"/>
<rect x="657" y="236" width="1" height="35" fill="#089981"/>
<rect x="653" y="248" width="9" height="16" fill="#089981"/>
<rect x="669" y="222" width="1" height="57" fill="#f23645"/>
<rect x="665" y="253" width="9" height="18" fill="#f23645"/>
<rect x="681" y="286" width="1" height="42" fill="#f23645"/>
<rect x="677" y="298" width="9" height="22" fill="#f23645"/>
<rect x="693" y="261" width="1" height="54" fill="#f23645"/>
<rect x="689" y="295" width="9" height="1" fill="#f23645"/>
<rect x="705" y="253" width="1" height="40" fill="#089981"/>
<rect x="701" y="256" width="9" height="27" fill="#089981"/>
<rect x="717" y="226" width="1" height="36" fill="#089981"/>
<rect x="713" y="240" width="9" height="16" fill="#089981"/>
<rect x="729" y="184" width="1" height="52" fill="#089981"/>
<rect x="725" y="191" width="9" height="41" fill="#089981"/>
<rect x="741" y="168" width="1" height="60" fill="#f23645"/>
<rect x="737" y="188" width="9" height="9" fill="#f23645"/>
<rect x="753" y="215" width="1" height="31" fill="#089981"/>
<rect x="749" y="219" width="9" height="9" fill="#089981"/>
<rect x="765" y="143" width="1" height="65" fill="#089981"/>
<rect x="761" y="148" width="9" height="44" fill="#089981"/>
<rect x="777" y="135" width="1" height="25" fill="#f23645"/>
<rect x="773" y="136" width="9" height="21" fill="#f23645"/>
<rect x="789" y="141" width="1" height="42" fill="#f23645"/>
<rect x="785" y="144" width="9" height="30" fill="#f23645"/>
<rect x="801" y="156" width="1" height="49" fill="#f23645"/>
<rect x="797" y="165" width="9" height="18" fill="#f23645"/>
<rect x="813" y="180" width="1" height="49" fill="#f23645"/>
<rect x="809" y="185" width="9" height="31" fill="#f23645"/>
<rect x="826" y="214" width="1" height="77" fill="#f23645"/>
<rect x="822" y="215" width="9" height="60" fill="#f23645"/>
<rect x="838" y="260" width="1" height="66" fill="#f23645"/>
<rect x="834" y="278" width="9" height="2" fill="#f23645"/>
<rect x="850" y="243" width="1" height="47" fill="#f23645"/>
<rect x="846" y="277" width="9" height="5" fill="#f23645"/>
<rect x="862" y="262" width="1" height="69" fill="#f23645"/>
<rect x="858" y="269" width="9" height="33" fill="#f23645"/>
<rect x="874" y="292" width="1" height="48" fill="#089981"/>
<rect x="870" y="295" width="9" height="29" fill="#089981"/>
<rect x="886" y="289" width="1" height="37" fill="#f23645"/>
<rect x="882" y="294" width="9" height="5" fill="#f23645"/>
<rect x="898" y="278" width="1" height="45" fill="#089981"/>
<rect x="894" y="300" width="9" height="17" fill="#089981"/>
<rect x="910" y="302" width="1" height="21" fill="#089981"/>
<rect x="906" y="304" width="9" height="18" fill="#089981"/>
<rect x="922" y="302" width="1" height="39" fill="#f23645"/>
<rect x="918" y="314" width="9" height="13" fill="#f23645"/>
<rect x="934" y="350" width="1" height="29" fill="#f23645"/>
<rect x="930" y="361" width="9" height="11" fill="#f23645"/>
<rect x="946" y="358" width="1" height="22" fill="#089981"/>
<rect x="942" y="372" width="9" height="7" fill="#089981"/>
<rect x="958" y="360" width="1" height="21" fill="#f23645"/>
<rect x="954" y="368" width="9" height="6" fill="#f23645"/>
<rect x="970" y="391" width="1" height="66" fill="#f23645"/>
<rect x="966" y="394" width="9" height="59" fill="#f23645"/>
<rect x="982" y="426" width="1" height="50" fill="#f23645"/>
<rect x="978" y="439" width="9" height="15" fill="#f23645"/>
<rect x="994" y="456" width="1" height="27" fill="#089981"/>
<rect x="990" y="460" width="9" height="21" fill="#089981"/>
<rect x="1006" y="401" width="1" height="63" fill="#089981"/>
<rect x="1002" y="412" width="9" height="51" fill="#089981"/>
<rect x="1018" y="371" width="1" height="59" fill="#089981"/>
<rect x="1014" y="373" width="9" height="14" fill="#089981"/>
<rect x="1030" y="356" width="1" height="33" fill="#089981"/>
<rect x="1026" y="372" width="9" height="9" fill="#089981"/>
<rect x="1042" y="348" width="1" height="48" fill="#f23645"/>
<rect x="1038" y="377" width="9" height="13" fill="#f23645"/>
<rect x="1054" y="377" width="1" height="40" fill="#089981"/>
<rect x="1050" y="382" width="9" height="29" fill="#089981"/>
<rect x="1066" y="367" width="1" height="48" fill="#f23645"/>
<rect x="1062" y="375" width="9" height="13" fill="#f23645"/>
<rect x="1078" y="370" width="1" height="36" fill="#f23645"/>
<rect x="1074" y="374" width="9" height="28" fill="#f23645"/>
<rect x="1090" y="367" width="1" height="43" fill="#089981"/>
<rect x="1086" y="380" width="9" height="30" fill="#089981"/>
<rect x="1102" y="314" width="1" height="50" fill="#089981"/>
<rect x="1098" y="318" width="9" height="34" fill="#089981"/>
<rect x="1114" y="298" width="1" height="26" fill="#089981"/>
<rect x="1110" y="305" width="9" height="7" fill="#089981"/>
<rect x="1126" y="246" width="1" height="47" fill="#089981"/>
<rect x="1122" y="251" width="9" height="30" fill="#089981"/>
</g>
<g opacity="0.3"><text x="18.1" y="45.9" font-size="11.5" fill="#1e222d" textLength="131" lengthAdjust="spacingAndGlyphs" >Nifty 50 Index · 1D · NSE</text>
<text x="158.2" y="45.9" font-size="11.5" fill="#1e222d" textLength="7.100000000000011" lengthAdjust="spacingAndGlyphs" >O</text>
<text x="166" y="45.9" font-size="11.5" fill="#089981" textLength="52" lengthAdjust="spacingAndGlyphs">23,036.60</text>
<text x="224.5" y="45.9" font-size="11.5" fill="#1e222d" textLength="7.100000000000011" lengthAdjust="spacingAndGlyphs" >H</text>
<text x="232.3" y="45.9" font-size="11.5" fill="#089981" textLength="52" lengthAdjust="spacingAndGlyphs">23,216.70</text>
<text x="293.9" y="45.9" font-size="11.5" fill="#1e222d" textLength="5.700000000000034" lengthAdjust="spacingAndGlyphs" >L</text>
<text x="300.3" y="45.9" font-size="11.5" fill="#089981" textLength="52" lengthAdjust="spacingAndGlyphs">22,973.95</text>
<text x="360.6" y="45.9" font-size="11.5" fill="#1e222d" textLength="6.4999999999999885" lengthAdjust="spacingAndGlyphs" >C</text>
<text x="367.8" y="45.9" font-size="11.5" fill="#089981" textLength="52" lengthAdjust="spacingAndGlyphs">23,190.65</text>
<text x="428" y="45.9" font-size="11.5" fill="#089981" textLength="89" lengthAdjust="spacingAndGlyphs" >+283.05 (+1.24%)</text>
<text x="18.1" y="62.9" font-size="11.5" fill="#1e222d" textLength="40" lengthAdjust="spacingAndGlyphs" >Vol (20)</text>
<text x="68.75" y="62.9" font-size="11.5" fill="#26a69a" textLength="44" lengthAdjust="spacingAndGlyphs" >413.73M</text>
<text x="120" y="62.9" font-size="11.5" fill="#4a7fd6" textLength="46" lengthAdjust="spacingAndGlyphs" >297.98M</text>
<text x="18.1" y="79.8" font-size="11.5" fill="#1e222d" textLength="139.5" lengthAdjust="spacingAndGlyphs" >EMA (50, close, 0, SMA, 5)</text>
<text x="165" y="79.8" font-size="11.5" fill="#4caf50" textLength="52" lengthAdjust="spacingAndGlyphs" >22,996.77</text>
<text x="18.1" y="96.8" font-size="11.5" fill="#1e222d" textLength="87.5" lengthAdjust="spacingAndGlyphs" >EMA (200, close)</text>
<text x="113.75" y="96.8" font-size="11.5" fill="#e0435a" textLength="52" lengthAdjust="spacingAndGlyphs" >23,397.77</text>
<text x="18.1" y="113.8" font-size="11.5" fill="#1e222d" textLength="139.5" lengthAdjust="spacingAndGlyphs" >EMA (20, close, 0, SMA, 5)</text>
<text x="165" y="113.8" font-size="11.5" fill="#7b1fa2" textLength="52" lengthAdjust="spacingAndGlyphs" >22,701.76</text>
<text x="18.1" y="130.8" font-size="11.5" fill="#1e222d" textLength="101.5" lengthAdjust="spacingAndGlyphs" >BB (20, close, 2, 0)</text>
<text x="127.5" y="130.8" font-size="11.5" fill="#f57c00" textLength="52" lengthAdjust="spacingAndGlyphs" >22,565.81</text>
<text x="188" y="130.8" font-size="11.5" fill="#4caf50" textLength="52" lengthAdjust="spacingAndGlyphs" >23,135.96</text>
<text x="248" y="130.8" font-size="11.5" fill="#e0435a" textLength="52" lengthAdjust="spacingAndGlyphs" >21,995.67</text>
<text x="18.1" y="147.8" font-size="11.5" fill="#1e222d" textLength="132.5" lengthAdjust="spacingAndGlyphs" >EMA (5, close, 0, SMA, 5)</text>
<text x="159.5" y="147.8" font-size="11.5" fill="#c844c8" textLength="52" lengthAdjust="spacingAndGlyphs" >22,859.71</text>
<text x="18.1" y="164.8" font-size="11.5" fill="#1e222d" textLength="139.5" lengthAdjust="spacingAndGlyphs" >EMA (10, close, 0, SMA, 5)</text>
<text x="165" y="164.8" font-size="11.5" fill="#c844c8" textLength="52" lengthAdjust="spacingAndGlyphs" >22,713.36</text>
<text x="18.1" y="181.8" font-size="11.5" fill="#1e222d" textLength="87.5" lengthAdjust="spacingAndGlyphs" >EMA (100, close)</text>
<text x="113.75" y="181.8" font-size="11.5" fill="#000" textLength="52" lengthAdjust="spacingAndGlyphs" >23,377.97</text></g>
<text x="1208" y="554.4" font-size="12" fill="#131722" textLength="52" lengthAdjust="spacingAndGlyphs">21,600.00</text>
<text x="1208" y="516.7" font-size="12" fill="#131722" textLength="52" lengthAdjust="spacingAndGlyphs">21,800.00</text>
<text x="1208" y="479.0" font-size="12" fill="#131722" textLength="52" lengthAdjust="spacingAndGlyphs">22,000.00</text>
<text x="1208" y="441.3" font-size="12" fill="#131722" textLength="52" lengthAdjust="spacingAndGlyphs">22,200.00</text>
<text x="1208" y="403.6" font-size="12" fill="#131722" textLength="52" lengthAdjust="spacingAndGlyphs">22,400.00</text>
<text x="1208" y="365.9" font-size="12" fill="#131722" textLength="52" lengthAdjust="spacingAndGlyphs">22,600.00</text>
<text x="1208" y="328.2" font-size="12" fill="#131722" textLength="52" lengthAdjust="spacingAndGlyphs">22,800.00</text>
<text x="1208" y="290.5" font-size="12" fill="#131722" textLength="52" lengthAdjust="spacingAndGlyphs">23,000.00</text>
<text x="1208" y="252.8" font-size="12" fill="#131722" textLength="52" lengthAdjust="spacingAndGlyphs">23,200.00</text>
<text x="1208" y="215.1" font-size="12" fill="#131722" textLength="52" lengthAdjust="spacingAndGlyphs">23,400.00</text>
<text x="1208" y="177.4" font-size="12" fill="#131722" textLength="52" lengthAdjust="spacingAndGlyphs">23,600.00</text>
<text x="1208" y="139.7" font-size="12" fill="#131722" textLength="52" lengthAdjust="spacingAndGlyphs">23,800.00</text>
<text x="1208" y="102.0" font-size="12" fill="#131722" textLength="52" lengthAdjust="spacingAndGlyphs">24,000.00</text>
<text x="1208" y="64.3" font-size="12" fill="#131722" textLength="52" lengthAdjust="spacingAndGlyphs">24,200.00</text>
<rect x="1203.5" y="31.5" width="63" height="25" rx="3" fill="#fff" stroke="#eceef2"/>
<text x="1212" y="48.5" font-size="12" fill="#131722" textLength="18.5" lengthAdjust="spacingAndGlyphs">INR</text>
<rect x="1159" y="243" width="40" height="17" rx="1" fill="#089981"/>
<rect x="1200" y="243" width="66" height="17" rx="1" fill="#089981"/>
<text x="1164" y="255.0" font-size="12" font-weight="bold" fill="#fff" textLength="31" lengthAdjust="spacingAndGlyphs">NIFTY</text>
<text x="1208" y="255.0" font-size="12" font-weight="bold" fill="#fff" textLength="52" lengthAdjust="spacingAndGlyphs">23,190.65</text>
<text x="212.8" y="582" font-size="12" fill="#131722" text-anchor="middle" >Dec</text>
<text x="465.3" y="582" font-size="12" fill="#131722" text-anchor="middle" font-weight="bold">2025</text>
<text x="741.8" y="582" font-size="12" fill="#131722" text-anchor="middle" >Feb</text>
<text x="982.3" y="582" font-size="12" fill="#131722" text-anchor="middle" >Mar</text>
<text x="10" y="19" font-size="12.5" fill="#2a2e39" textLength="382" lengthAdjust="spacingAndGlyphs">asc-010-1 published on TradingView.com, Mar 20, 2025 21:22 UTC+5:30</text>
<g transform="translate(10.2,604.5)" fill="#131722"><path d="M0 0h7.6v9.4h-3.8v-5.6h-3.8z"/><circle cx="10.2" cy="1.9" r="1.9"/><path d="M13.6 0h5.2l-4 9.4h-5.2z"/></g>
<text x="33.4" y="614" font-size="13.2" fill="#131722" stroke="#131722" stroke-width="0.25" textLength="69.6" lengthAdjust="spacingAndGlyphs">TradingView</text>
</svg>
</body></html>
